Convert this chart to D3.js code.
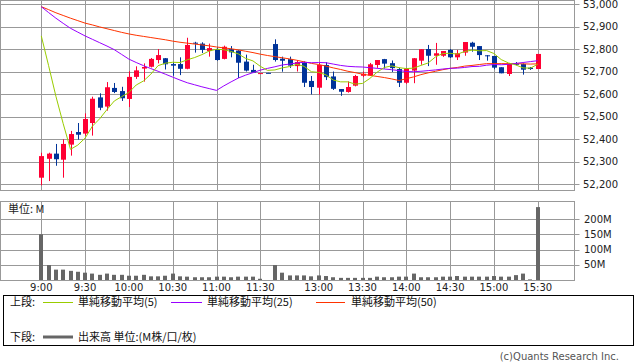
<!DOCTYPE html>
<html><head><meta charset="utf-8">
<script src="https://cdn.jsdelivr.net/npm/d3@7"></script>
<style>body{margin:0;background:#fff}svg{display:block}</style>
</head><body><svg id="c" width="638" height="362"></svg>
<script>
// 5-minute slots (slot "12:25" is the lunch-break filler slot)
const times = ["9:00","9:05","9:10","9:15","9:20","9:25","9:30","9:35","9:40","9:45","9:50","9:55",
"10:00","10:05","10:10","10:15","10:20","10:25","10:30","10:35","10:40","10:45","10:50","10:55",
"11:00","11:05","11:10","11:15","11:20","11:25","11:30","12:25",
"12:30","12:35","12:40","12:45","12:50","12:55",
"13:00","13:05","13:10","13:15","13:20","13:25","13:30","13:35","13:40","13:45","13:50","13:55",
"14:00","14:05","14:10","14:15","14:20","14:25","14:30","14:35","14:40","14:45","14:50","14:55",
"15:00","15:05","15:10","15:15","15:20","15:25","15:30"];
const open = [52228,52312,52335,52308,52375,52431,52424,52471,52585,52544,52627,52613,52578,52676,52713,52721,52751,52759,52733,52733,
52712,52828,52824,52791,52799,52756,52799,52793,52744,52707,52692,52694,52822,52757,52755,52724,52739,52658,52628,52729,
52678,52622,52609,52637,52681,52682,52729,52755,52737,52711,52650,52704,52748,52800,52770,52770,52796,52763,52784,52828,
52813,52772,52769,52719,52689,52736,52733,52717,52711];
const high = [52339,52339,52378,52399,52436,52471,52514,52588,52603,52653,52649,52632,52701,52723,52736,52760,52800,52760,52742,52763,
52850,52832,52830,52824,52807,52815,52813,52795,52775,52730,52693,52694,52843,52766,52766,52750,52745,52680,52740,52741,
52700,52622,52656,52685,52700,52738,52751,52756,52749,52716,52714,52760,52799,52818,52827,52791,52800,52796,52831,52832,
52813,52773,52769,52719,52736,52742,52736,52720,52778];
const low = [52194,52213,52281,52228,52326,52397,52415,52415,52528,52526,52604,52569,52542,52667,52655,52718,52736,52709,52681,52684,
52710,52784,52782,52766,52748,52754,52763,52671,52700,52693,52692,52693,52744,52699,52716,52700,52631,52598,52597,52662,
52618,52592,52606,52634,52675,52680,52716,52713,52698,52631,52645,52648,52730,52724,52730,52765,52760,52751,52770,52788,
52751,52748,52710,52692,52680,52728,52686,52707,52711];
const close = [52324,52335,52310,52378,52422,52419,52489,52579,52539,52630,52609,52581,52676,52705,52720,52756,52773,52732,52726,52712,
52818,52824,52796,52804,52751,52810,52785,52739,52704,52695,52693,52693,52751,52748,52726,52742,52650,52631,52729,52675,
52623,52610,52631,52680,52690,52732,52751,52735,52715,52650,52714,52759,52799,52770,52781,52791,52763,52781,52831,52810,
52773,52771,52717,52692,52735,52730,52708,52711,52778];
const ma5 = [52858,52726,52590,52468,52354,52373,52404,52457,52490,52531,52569,52588,52607,52640,52658,52688,52726,52737,52741,52740,
52752,52762,52775,52791,52799,52797,52789,52778,52758,52747,52723,52705,52707,52716,52722,52732,52723,52699,52696,52685,
52662,52654,52654,52644,52647,52669,52697,52718,52725,52717,52713,52715,52727,52738,52765,52780,52781,52777,52789,52795,
52792,52793,52780,52753,52738,52729,52716,52715,52732];
const ma25 = [52988,52962,52937,52914,52892,52875,52858,52843,52828,52813,52797,52776,52755,52740,52726,52713,52701,52688,52675,52662,
52650,52641,52632,52624,52616,52636,52654,52671,52684,52695,52706,52714,52721,52729,52733,52738,52741,52739,52740,52739,
52733,52727,52723,52721,52720,52717,52714,52711,52708,52704,52700,52699,52701,52704,52707,52711,52714,52715,52718,52722,
52723,52728,52731,52730,52732,52736,52740,52744,52748];
const ma50 = [52988,52975,52961,52949,52937,52926,52915,52907,52898,52890,52882,52874,52867,52861,52856,52851,52846,52841,52835,52830,
52826,52822,52818,52814,52809,52805,52801,52796,52790,52784,52777,52771,52766,52761,52756,52750,52743,52736,52731,52724,
52716,52709,52701,52695,52688,52683,52678,52673,52667,52660,52668,52676,52686,52694,52701,52708,52714,52718,52724,52727,
52731,52735,52735,52735,52735,52735,52734,52733,52734];
const volume = [150,49,34,34,30,27,24,21,17,21,17,17,14,14,17,12,12,14,21,12,
11,9,9,9,11,11,9,11,11,11,4,0,49,24,15,15,15,12,15,13,
9,7,7,7,7,7,11,9,9,11,11,21,9,9,9,11,11,13,11,11,
11,11,13,11,11,16,21,2,239];
const priceTicks = [52200,52300,52400,52500,52600,52700,52800,52900,53000];
const volTicks = [50,100,150,200];
const timeTicks = ["9:00","9:30","10:00","10:30","11:00","11:30","13:00","13:30","14:00","14:30","15:00","15:30"];

const UP = "#ff0033", DOWN = "#003399", GRID = "#999999";
const NUMF = "DejaVu Sans, sans-serif", JPF = "'Noto Sans CJK JP', sans-serif";

const svg = d3.select("#c");
const x = d3.scalePoint().domain(times).range([41.3, 537.7]);
const y = d3.scaleLinear().domain([52200, 53000]).range([184, 4]);
const yv = d3.scaleLinear().domain([0, 200]).range([280, 219]);
const cr = v => Math.round(v) + 0.5;
const fmt = d3.format(",");

const L = 0.5, R = 574.5;
// ---------- top panel ----------
const pg = svg.append("g");
pg.selectAll("line.h").data(priceTicks).join("line")
  .attr("x1", L).attr("x2", R + 5).attr("y1", d => cr(y(d))).attr("y2", d => cr(y(d)))
  .attr("stroke", GRID);
pg.selectAll("line.v").data(timeTicks).join("line")
  .attr("x1", d => cr(x(d))).attr("x2", d => cr(x(d))).attr("y1", 0.5).attr("y2", 190.5)
  .attr("stroke", GRID);
pg.append("rect").attr("x", L).attr("y", 0.5).attr("width", R - L).attr("height", 190)
  .attr("fill", "none").attr("stroke", GRID);
pg.selectAll("text").data(priceTicks).join("text")
  .attr("x", 583).attr("y", d => y(d)).attr("dy", "0.36em")
  .attr("font-family", NUMF).attr("font-size", 10).attr("fill", "#222")
  .text(d => fmt(d));

// candles
const idx = d3.range(times.length);
const cg = svg.append("g");
cg.selectAll("line").data(idx).join("line")
  .attr("x1", i => cr(x(times[i]))).attr("x2", i => cr(x(times[i])))
  .attr("y1", i => y(high[i])).attr("y2", i => y(low[i]))
  .attr("stroke", i => close[i] >= open[i] ? UP : DOWN);
cg.selectAll("rect").data(idx).join("rect")
  .attr("x", i => Math.round(x(times[i])) - 2).attr("width", 5)
  .attr("y", i => y(Math.max(open[i], close[i])))
  .attr("height", i => Math.max(1, Math.abs(y(open[i]) - y(close[i]))))
  .attr("fill", i => close[i] >= open[i] ? UP : DOWN);

// moving averages
const line = d3.line().x((d, i) => x(times[i])).y(d => y(d));
[[ma50, "#ff3300"], [ma25, "#9900ff"], [ma5, "#99cc00"]].forEach(([arr, col]) => {
  svg.append("path").attr("d", line(arr)).attr("fill", "none").attr("stroke", col).attr("stroke-width", 1);
});

// ---------- volume panel ----------
const vg = svg.append("g");
vg.selectAll("line.h").data(volTicks).join("line")
  .attr("x1", L).attr("x2", R + 5).attr("y1", d => cr(yv(d))).attr("y2", d => cr(yv(d)))
  .attr("stroke", GRID);
vg.selectAll("line.v").data(timeTicks).join("line")
  .attr("x1", d => cr(x(d))).attr("x2", d => cr(x(d))).attr("y1", 201.5).attr("y2", 280.5)
  .attr("stroke", GRID);
vg.append("rect").attr("x", L).attr("y", 201.5).attr("width", R - L).attr("height", 79)
  .attr("fill", "none").attr("stroke", GRID);
vg.selectAll("rect.bar").data(idx).join("rect").attr("class", "bar")
  .attr("x", i => Math.round(x(times[i])) - 2).attr("width", 4)
  .attr("y", i => yv(volume[i])).attr("height", i => yv(0) - yv(volume[i]))
  .attr("fill", "#666666");
vg.selectAll("text.vt").data(volTicks).join("text").attr("class", "vt")
  .attr("x", 584).attr("y", d => yv(d)).attr("dy", "0.36em")
  .attr("font-family", NUMF).attr("font-size", 10).attr("fill", "#222")
  .text(d => d + "M");
vg.append("text").attr("x", 8).attr("y", 213).attr("font-family", JPF).attr("font-size", 11)
  .attr("fill", "#222").text("単位: M");

// x labels
svg.selectAll("text.xt").data(timeTicks).join("text").attr("class", "xt")
  .attr("x", d => x(d)).attr("y", 291).attr("text-anchor", "middle")
  .attr("font-family", NUMF).attr("font-size", 10).attr("fill", "#222")
  .text(d => d);

// ---------- legend ----------
const lg = svg.append("g");
lg.append("rect").attr("x", 3.5).attr("y", 295.5).attr("width", 630).attr("height", 50)
  .attr("fill", "none").attr("stroke", "#000");
const ltxt = (tx, ty, s) => lg.append("text").attr("x", tx).attr("y", ty).attr("dy", "0.36em")
  .attr("font-family", JPF).attr("font-size", 11).attr("fill", "#111").text(s);
const lline = (x1, x2, ly, col, w) => lg.append("line").attr("x1", x1).attr("x2", x2)
  .attr("y1", ly).attr("y2", ly).attr("stroke", col).attr("stroke-width", w);
ltxt(10, 302, "上段:");
lline(43, 73, 302.5, "#99cc00", 1); ltxt(78, 302, "単純移動平均(5)");
lline(171, 202, 302.5, "#9900ff", 1); ltxt(207, 302, "単純移動平均(25)");
lline(316, 345, 302.5, "#ff3300", 1); ltxt(351, 302, "単純移動平均(50)");
ltxt(10, 337, "下段:");
lline(43, 73, 337, "#666666", 3); ltxt(78, 337, "出来高 単位:(M株/口/枚)");

svg.append("text").attr("x", 619).attr("y", 360).attr("text-anchor", "end")
  .attr("font-family", NUMF).attr("font-size", 10).attr("fill", "#555")
  .text("(c)Quants Research Inc.");
</script></body></html>
